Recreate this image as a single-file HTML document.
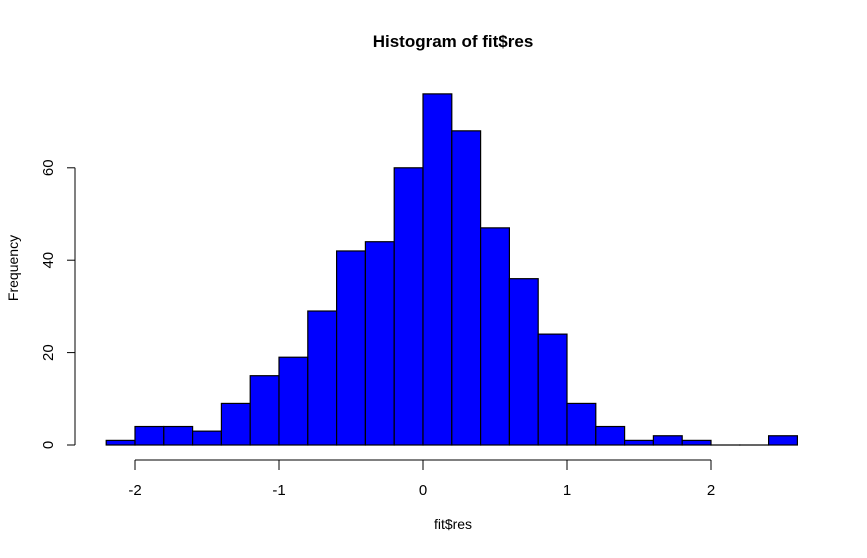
<!DOCTYPE html>
<html><head><meta charset="utf-8"><style>
body{margin:0;background:#fff;}
svg{display:block;font-family:"Liberation Sans",Arial,sans-serif;}
</style></head><body>
<svg id="c" width="867" height="558">
<text x="453" y="47" text-anchor="middle" font-weight="bold" font-size="17">Histogram of fit$res</text>
<text x="453" y="529" text-anchor="middle" font-size="14">fit$res</text>
<text transform="translate(18,268) rotate(-90)" text-anchor="middle" font-size="14">Frequency</text>
<g id="bars"></g>
<g id="xa"></g>
<g id="ya"></g>
</svg>
<script>
const binStart = -2.2;
const binWidth = 0.2;
const counts = [1,4,4,3,9,15,19,29,42,44,60,76,68,47,36,24,9,4,1,2,1,0,0,2];
const xTicks = [-2,-1,0,1,2];
const yTicks = [0,20,40,60];
const NS="http://www.w3.org/2000/svg";
const xs=v=>423+(v)*144;
const ys=v=>445-v*4.62;
function mk(t,a,p){const e=document.createElementNS(NS,t);for(const k in a)e.setAttribute(k,a[k]);p.appendChild(e);return e;}
const bars=document.getElementById('bars');
counts.forEach((c,i)=>{
  const x0=xs(binStart+i*binWidth),x1=xs(binStart+(i+1)*binWidth);
  const r=mk('rect',{x:x0,y:ys(c),width:x1-x0,height:Math.max(ys(0)-ys(c),0.01),fill:'#0000ff',stroke:'#000','stroke-width':1.2},bars);
  
  
});
const xa=document.getElementById('xa');
mk('line',{x1:xs(xTicks[0]),x2:xs(xTicks[xTicks.length-1]),y1:460,y2:460,stroke:'#000'},xa);
xTicks.forEach(t=>{
  mk('line',{x1:xs(t),x2:xs(t),y1:460,y2:470,stroke:'#000'},xa);
  const tx=mk('text',{x:xs(t),y:495,'text-anchor':'middle','font-size':15},xa);
  tx.textContent=t;
  
  
});
const ya=document.getElementById('ya');
mk('line',{x1:75,x2:75,y1:ys(yTicks[0]),y2:ys(yTicks[yTicks.length-1]),stroke:'#000'},ya);
yTicks.forEach(t=>{
  mk('line',{x1:67,x2:75,y1:ys(t),y2:ys(t),stroke:'#000'},ya);
  const tx=mk('text',{transform:`translate(53,${ys(t)}) rotate(-90)`,'text-anchor':'middle','font-size':15},ya);
  tx.textContent=t;
  
  
});
</script>
</body></html>
